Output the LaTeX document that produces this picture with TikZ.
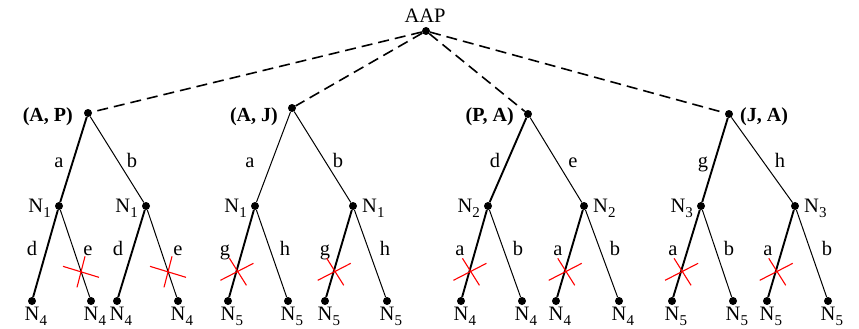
\documentclass[tikz,border=0pt]{standalone}
\usepackage{fontspec}
\setmainfont{Liberation Serif}
\newcommand\Nsb[1]{N\raisebox{-5.5pt}{\fontsize{15}{15}\selectfont #1}}
\begin{document}
\begin{tikzpicture}[x=1pt,y=-1pt,
  dot/.style={circle,fill=black,inner sep=0pt,minimum size=8pt},
  txt/.style={inner sep=0pt,font=\fontsize{20.5}{23}\selectfont},
  btxt/.style={inner sep=0pt,font=\fontsize{20}{23}\selectfont\bfseries},
  thk/.style={line width=1.9pt},
  thn/.style={line width=1pt},
  dsh/.style={line width=1.6pt,dash pattern=on 11pt off 6pt},
  crossR/.pic={\draw[red,line width=1.1pt] (-18,-5) -- (18,6) (4,-15) -- (-4,16);},
  crossL/.pic={\draw[red,line width=1.1pt] (-16,9) -- (17,-8) (-7,-13) -- (10,14);}
]
\useasboundingbox (0,0) rectangle (859,329);
% nodes
\node[dot] (r) at (426,31) {};
\node[txt,anchor=base] (rl) at (425,23) {AAP};

\node[dot] (t1) at (88,113) {};
\node[dot] (t2) at (292,108) {};
\node[dot] (t3) at (528,114) {};
\node[dot] (t4) at (729,114) {};
\node[btxt,anchor=base east] at (73,121) {(A, P)};
\node[btxt,anchor=base east] at (278,121) {(A, J)};
\node[btxt,anchor=base east] at (514,121) {(P, A)};
\node[btxt,anchor=base west] at (740,121) {(J, A)};

\foreach \n/\x in {n11/59,n12/146,n21/255,n22/353,n31/488,n32/584,n41/701,n42/795}
  \node[dot] (\n) at (\x,206) {};
\foreach \n/\x in {l11/32,l12/91,l13/117,l14/178,l21/228,l22/288,l23/325,l24/387,
                   l31/461,l32/522,l33/556,l34/619,l41/672,l42/733,l43/767,l44/828}
  \node[dot] (\n) at (\x,301) {};

% level-2 labels
\node[txt,anchor=base east] at (51,212) {\Nsb{1}};
\node[txt,anchor=base east] at (138,212) {\Nsb{1}};
\node[txt,anchor=base east] at (247,212) {\Nsb{1}};
\node[txt,anchor=base west] at (362,212) {\Nsb{1}};
\node[txt,anchor=base east] at (480,212) {\Nsb{2}};
\node[txt,anchor=base west] at (593,212) {\Nsb{2}};
\node[txt,anchor=base east] at (693,212) {\Nsb{3}};
\node[txt,anchor=base west] at (804,212) {\Nsb{3}};

% leaf labels
\foreach \x/\s in {32/4,91/4,117/4,178/4,228/5,288/5,325/5,387/5,461/4,522/4,556/4,619/4,672/5,733/5,767/5,828/5}
  \node[txt,anchor=base west] at (\x-7.5,320) {\Nsb{\s}};

% dashed connectors
\draw[dsh] (r) -- (t1);
\draw[dsh] (r) -- (t2);
\draw[dsh] (r) -- (t3);
\draw[dsh] (r) -- (t4);

% tree 1
\draw[thk] (t1) -- (n11);
\draw[thn] (t1) -- (n12);
\draw[thk] (n11) -- (l11);
\draw[thn] (n11) -- (l12);
\draw[thk] (n12) -- (l13);
\draw[thn] (n12) -- (l14);
% tree 2
\draw[thn] (t2) -- (n21);
\draw[thn] (t2) -- (n22);
\draw[thk] (n21) -- (l21);
\draw[thn] (n21) -- (l22);
\draw[thk] (n22) -- (l23);
\draw[thn] (n22) -- (l24);
% tree 3
\draw[thk] (t3) -- (n31);
\draw[thn] (t3) -- (n32);
\draw[thk] (n31) -- (l31);
\draw[thn] (n31) -- (l32);
\draw[thk] (n32) -- (l33);
\draw[thn] (n32) -- (l34);
% tree 4
\draw[thk] (t4) -- (n41);
\draw[thn] (t4) -- (n42);
\draw[thk] (n41) -- (l41);
\draw[thn] (n41) -- (l42);
\draw[thk] (n42) -- (l43);
\draw[thn] (n42) -- (l44);

% edge labels
\foreach \x/\t in {59/a,132/b,250/a,338/b,495/d,573/e,703/g,780/h}
  \node[txt,anchor=base] at (\x,167) {\t};
\foreach \x/\t in {32/d,88/e,118/d,178/e,225/g,285/h,325/g,385/h,460/a,518/b,558/a,615/b,673/a,729/b,768/a,827/b}
  \node[txt,anchor=base] at (\x,255) {\t};

% red crosses
\path (n11) -- (l12) coordinate[pos=0.705] (c1);
\path (n12) -- (l14) coordinate[pos=0.705] (c2);
\path (n21) -- (l21) coordinate[pos=0.705] (c3);
\path (n22) -- (l23) coordinate[pos=0.705] (c4);
\path (n31) -- (l31) coordinate[pos=0.705] (c5);
\path (n32) -- (l33) coordinate[pos=0.705] (c6);
\path (n41) -- (l41) coordinate[pos=0.705] (c7);
\path (n42) -- (l43) coordinate[pos=0.705] (c8);
\pic at (c1) {crossR};
\pic at (c2) {crossR};
\foreach \c in {c3,c4,c5,c6,c7,c8} \pic at (\c) {crossL};
\end{tikzpicture}
\end{document}
